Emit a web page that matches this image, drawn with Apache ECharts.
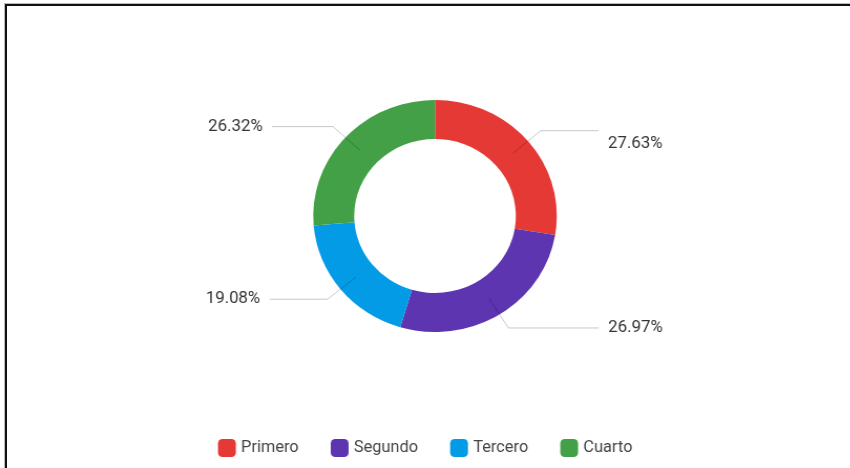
<!DOCTYPE html>
<html>
<head>
<meta charset="utf-8">
<script src="https://cdn.jsdelivr.net/npm/echarts@6/dist/echarts.min.js"></script>
<style>
  html, body { margin: 0; padding: 0; background: #fff; overflow: hidden; }
  #frame { position: absolute; left: 5px; top: 4px; width: 900px; height: 500px;
           border-top: 2px solid #111; border-left: 2px solid #111;
           box-shadow: -1px -1px 0 #bbb; }
  #chart { position: absolute; left: 0; top: 0; width: 810px; height: 468px;
           transform: scaleX(1.05); transform-origin: 0 0; }
</style>
</head>
<body>
<div id="frame"></div>
<div id="chart"></div>
<script>
const categories = ['Primero', 'Segundo', 'Tercero', 'Cuarto'];
const values = [21, 20.5, 14.5, 20];
const colors = ['#E53935', '#5E35B1', '#039BE5', '#43A047'];
const leaderLen2 = [55, 86, 55, 58];

const chart = echarts.init(document.getElementById('chart'), null, { renderer: 'canvas' });

const ringData = categories.map((c, i) => ({ name: c, value: values[i], itemStyle: { color: colors[i] } }));
const labelData = categories.map((c, i) => ({
  name: c,
  value: values[i],
  itemStyle: { color: 'rgba(0,0,0,0)' },
  labelLine: { length2: leaderLen2[i] }
}));

chart.setOption({
  animation: false,
  legend: {
    left: 207.6,
    top: 439,
    padding: 0,
    itemWidth: 17,
    itemHeight: 18,
    itemGap: 30.5,
    icon: 'roundRect',
    data: categories,
    textStyle: { fontSize: 15.6, color: '#444', fontFamily: 'Roboto' }
  },
  series: [
    {
      type: 'pie',
      z: 2,
      center: [414.3, 216],
      radius: [77, 116],
      startAngle: 90,
      clockwise: true,
      silent: true,
      label: { show: false },
      labelLine: { show: false },
      emphasis: { disabled: true },
      data: ringData
    },
    {
      type: 'pie',
      z: 5,
      center: [414.3, 216],
      radius: [0, 97],
      startAngle: 90,
      clockwise: true,
      silent: true,
      legendHoverLink: false,
      emphasis: { disabled: true },
      percentPrecision: 2,
      label: {
        show: true,
        position: 'outside',
        formatter: function (p) {
          return (p.dataIndex === 0 ? '\n' : '') + p.percent.toFixed(2) + '%';
        },
        fontSize: 16,
        lineHeight: 26,
        fontFamily: 'Roboto',
        color: '#333',
        distanceToLabelLine: 9
      },
      labelLine: {
        show: true,
        length: 35,
        length2: 55,
        smooth: false,
        lineStyle: { color: 'rgba(0,0,0,0.22)', width: 1 }
      },
      data: labelData
    }
  ]
});
</script>
</body>
</html>
